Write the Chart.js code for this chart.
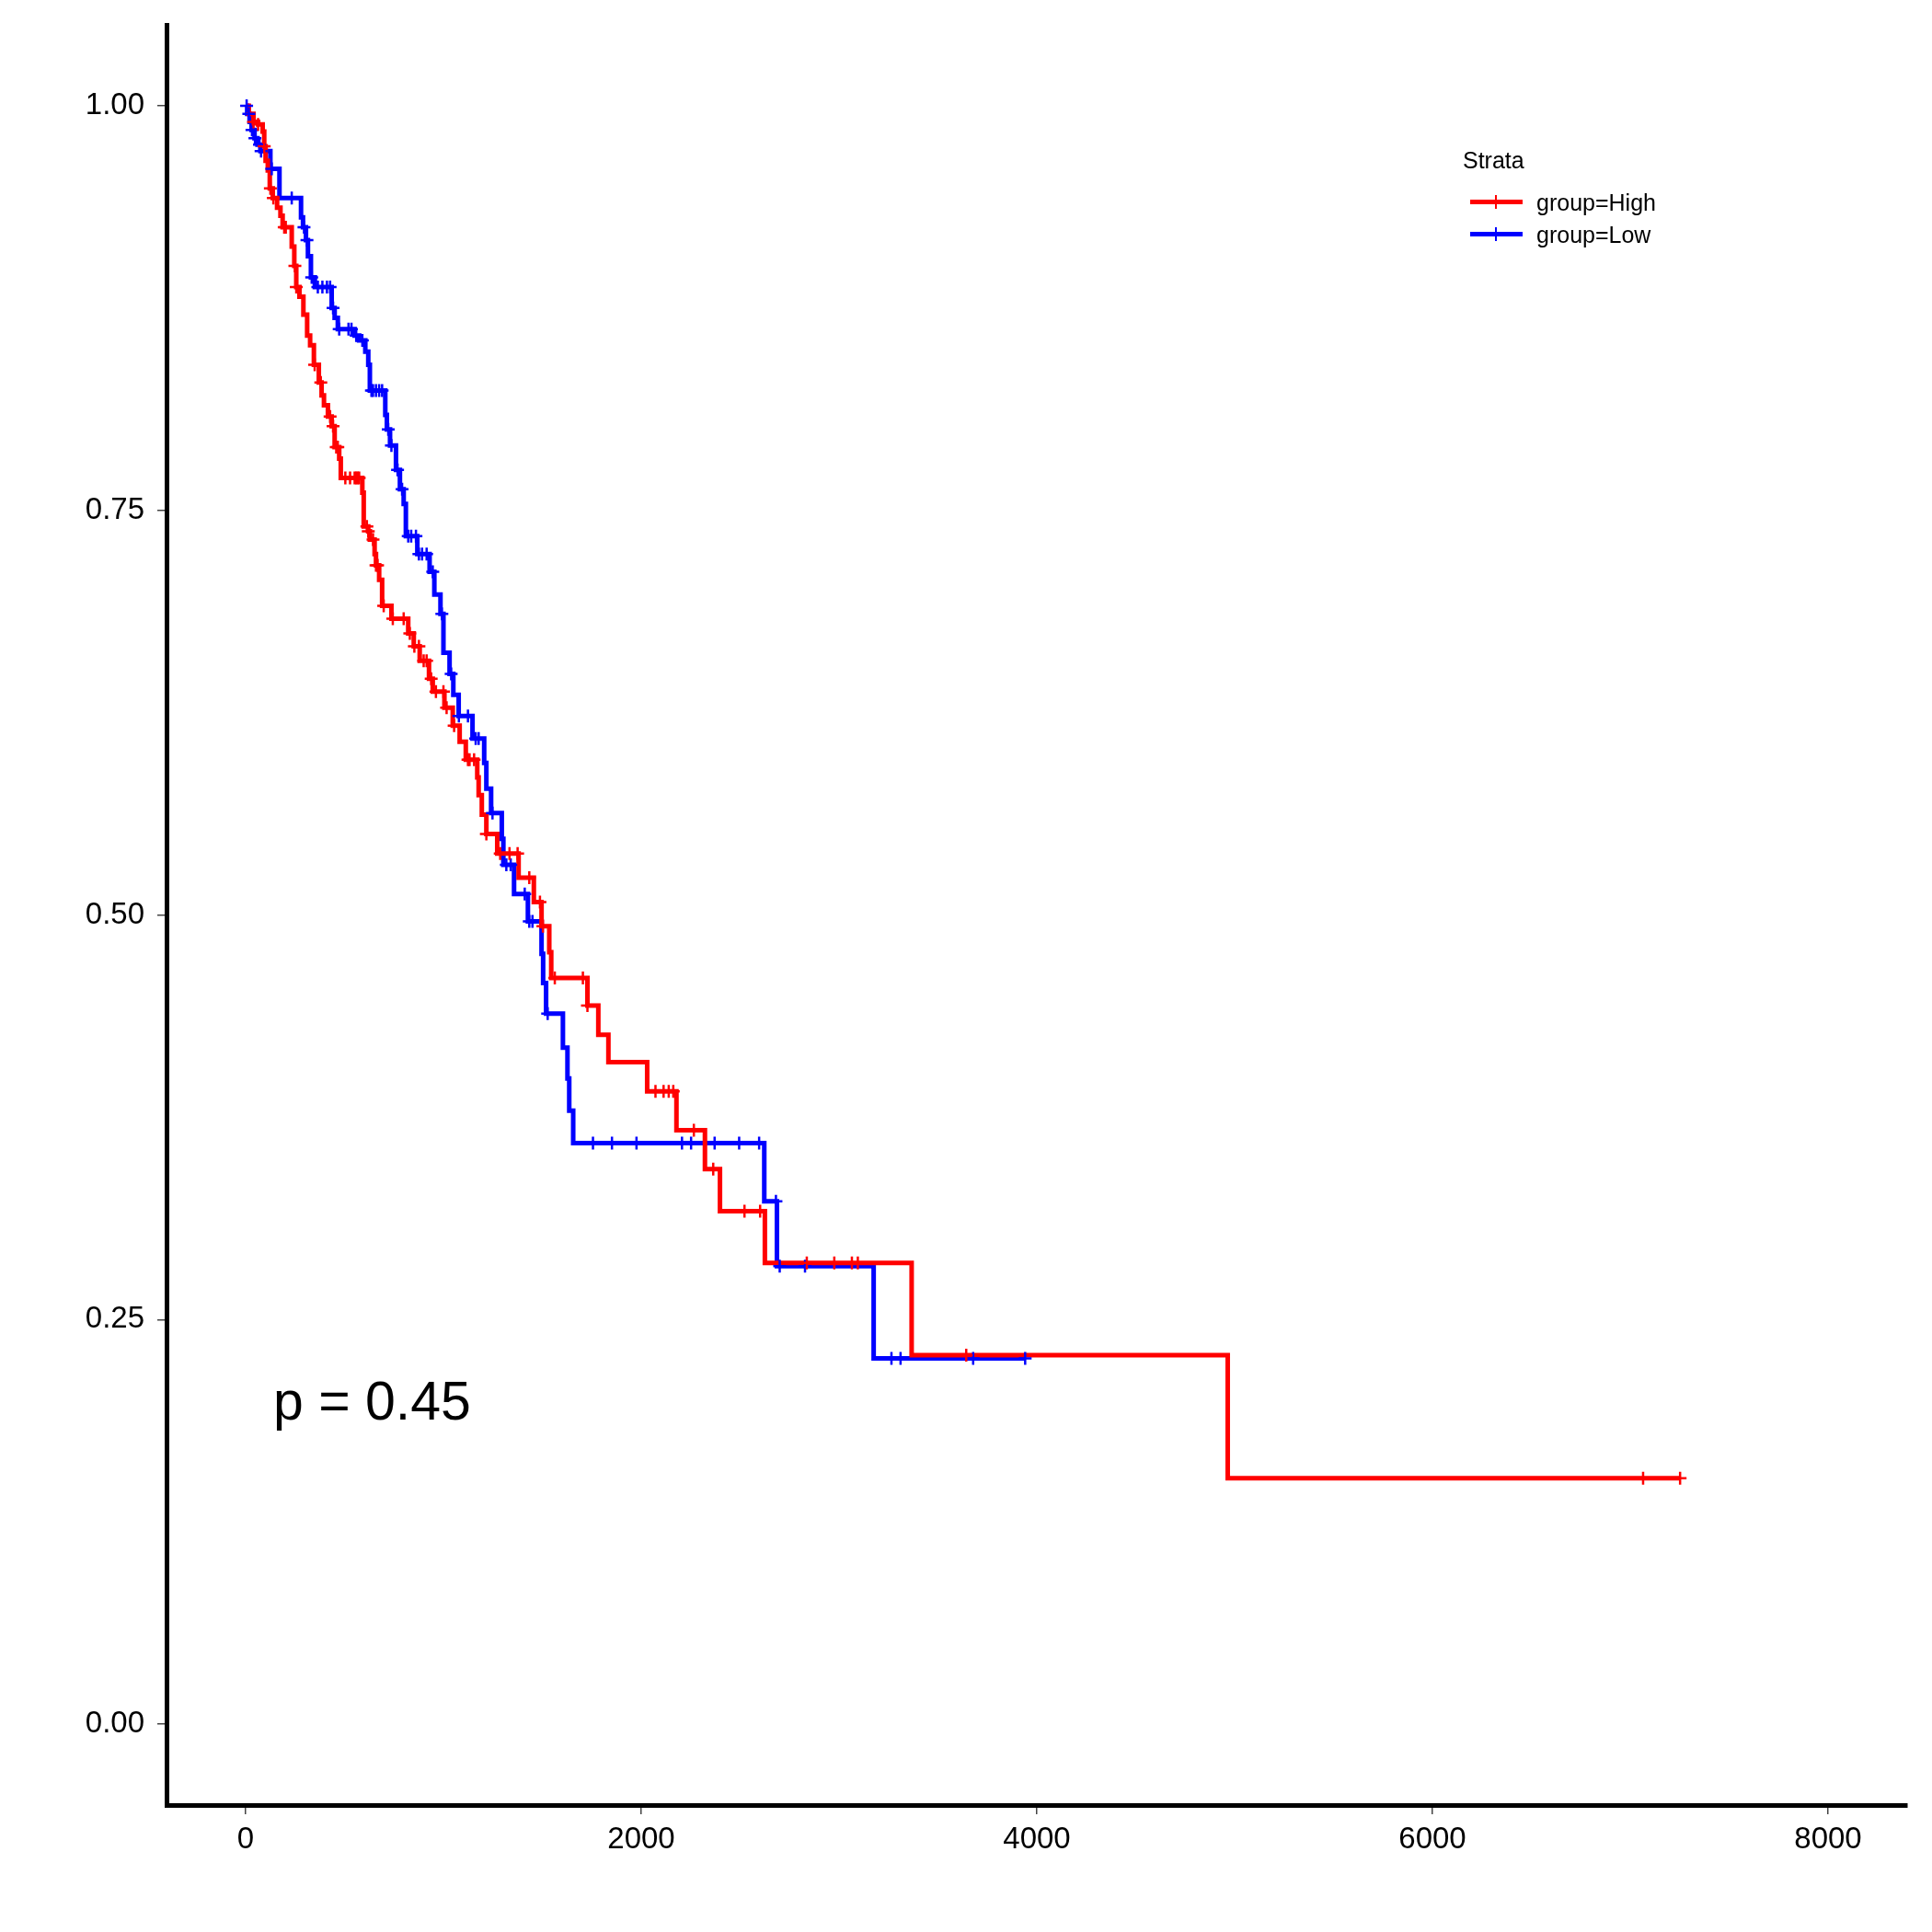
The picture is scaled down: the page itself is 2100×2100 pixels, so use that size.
<!DOCTYPE html>
<html>
<head>
<meta charset="utf-8">
<title>Kaplan-Meier: group=High vs group=Low</title>
<script src="https://cdn.jsdelivr.net/npm/chart.js@4.4.1/dist/chart.umd.min.js"></script>
<style>
  html, body { margin: 0; padding: 0; background: #fff; }
  #wrap { position: relative; width: 2100px; height: 2100px; font-family: "Liberation Sans", Arial, sans-serif; color: #000; }
  #kmChart { position: absolute; left: 0; top: 0; }
  .txt { position: absolute; line-height: 1; white-space: nowrap; }
  #pval { left: 297px; top: 1494px; font-size: 59px; }
  #legTitle { left: 1590px; top: 162px; font-size: 25px; }
  .key { position: absolute; left: 1598px; width: 57px; height: 5px; }
  .key span { position: absolute; left: 27px; top: -5px; width: 2px; height: 15px; }
</style>
</head>
<body>
<div id="wrap">
  <canvas id="kmChart" width="2100" height="2100"></canvas>
  <div class="txt" id="pval">p = 0.45</div>
  <div class="txt" id="legTitle">Strata</div>
  <div class="key" style="top:217px;background:#ff0000"><span style="background:#ff0000"></span></div>
  <div class="txt" style="left:1670px;top:208px;font-size:25px">group=High</div>
  <div class="key" style="top:252px;background:#0000ff"><span style="background:#0000ff"></span></div>
  <div class="txt" style="left:1670px;top:243px;font-size:25px">group=Low</div>
</div>
<script>
// courbes de survie (temps en jours)
const highTimes = [0, 16, 40, 63, 86, 94, 101, 112, 122, 137, 159, 176, 187, 233, 246, 256, 272, 292, 311, 326,
  345, 370, 384, 396, 416, 435, 450, 473, 481, 590, 597, 620, 628, 652, 659, 675, 690, 737, 822, 850,
  880, 927, 946, 1005, 1047, 1082, 1113, 1171, 1178, 1194, 1217, 1272, 1380, 1457, 1496, 1535, 1545, 1728, 1783, 1834,
  2030, 2178, 2322, 2398, 2625, 3367, 4965];
const highSurv = [1.0, 0.995, 0.990, 0.9885, 0.984, 0.975, 0.966, 0.960, 0.949, 0.943, 0.937, 0.932, 0.925, 0.913, 0.901, 0.888, 0.882, 0.871, 0.858, 0.852,
  0.840, 0.829, 0.821, 0.815, 0.808, 0.802, 0.789, 0.782, 0.770, 0.761, 0.740, 0.737, 0.732, 0.723, 0.716, 0.707, 0.691, 0.683, 0.674, 0.666,
  0.657, 0.646, 0.638, 0.628, 0.617, 0.607, 0.596, 0.585, 0.574, 0.562, 0.550, 0.538, 0.523, 0.508, 0.493, 0.477, 0.461, 0.444, 0.426, 0.409,
  0.391, 0.367, 0.343, 0.317, 0.285, 0.228, 0.152];
const highEnd = 7252;
const highCensor = [40, 63, 94, 125, 140, 195, 203, 249, 256, 349, 380, 427, 442, 458, 466, 504, 528, 551, 559, 566,
  574, 613, 620, 644, 659, 667, 698, 744, 799, 830, 853, 876, 900, 915, 938, 962, 1000, 1016, 1054, 1124,
  1132, 1155, 1217, 1287, 1334, 1375, 1434, 1488, 1503, 1563, 1705, 1728, 2072, 2113, 2139, 2162, 2266, 2364, 2522, 2601,
  2837, 2976, 3065, 3095, 3643, 7065, 7252];

const lowTimes = [0, 8, 20, 30, 45, 60, 75, 125, 171, 280, 290, 305, 315, 330, 350, 435, 450, 466, 551, 574,
  605, 620, 628, 706, 714, 730, 760, 780, 799, 810, 868, 930, 954, 985, 1000, 1031, 1050, 1077, 1147, 1206,
  1217, 1241, 1295, 1303, 1357, 1427, 1496, 1504, 1519, 1604, 1627, 1636, 1656, 2622, 2686, 3175];
const lowSurv = [1.0, 0.995, 0.990, 0.985, 0.980, 0.976, 0.972, 0.961, 0.943, 0.931, 0.925, 0.917, 0.907, 0.894, 0.888, 0.875, 0.869, 0.862, 0.858, 0.855,
  0.848, 0.840, 0.824, 0.809, 0.800, 0.790, 0.775, 0.763, 0.754, 0.734, 0.723, 0.712, 0.698, 0.686, 0.662, 0.649, 0.636, 0.623, 0.609, 0.594,
  0.578, 0.563, 0.547, 0.531, 0.513, 0.496, 0.476, 0.458, 0.439, 0.418, 0.399, 0.379, 0.359, 0.323, 0.283, 0.226];
const lowEnd = 3941;
const lowCensor = [5, 16, 32, 47, 70, 78, 132, 233, 295, 310, 334, 365, 388, 411, 427, 442, 473, 520, 535, 559,
  590, 636, 644, 659, 675, 690, 721, 737, 768, 791, 822, 837, 861, 876, 892, 915, 946, 992, 1039, 1078,
  1124, 1163, 1178, 1248, 1318, 1340, 1411, 1434, 1450, 1527, 1756, 1852, 1976, 2206, 2252, 2371, 2495, 2596, 2681, 2700,
  2828, 3265, 3311, 3678, 3941];

const xTicks = [0, 2000, 4000, 6000, 8000];
const yTicks = [0, 0.25, 0.5, 0.75, 1.0];

const FONT = '"Liberation Sans", Arial, sans-serif';

function stepPoints(times, surv, end) {
  const pts = times.map((t, i) => ({ x: t, y: surv[i] }));
  pts.push({ x: end, y: surv[surv.length - 1] });
  return pts;
}

function survAt(times, surv, t) {
  let s = surv[0];
  for (let i = 0; i < times.length; i++) {
    if (times[i] <= t) s = surv[i];
  }
  return s;
}

function censorPoints(cens, times, surv) {
  return cens.map(t => ({ x: t, y: survAt(times, surv, t) }));
}

const ctx = document.getElementById('kmChart').getContext('2d');
const kmChart = new Chart(ctx, {
  type: 'scatter',
  data: {
    datasets: [
      {
        label: 'group=High censor',
        data: censorPoints(highCensor, highTimes, highSurv),
        showLine: false,
        pointStyle: 'cross',
        pointRadius: 7,
        borderColor: '#ff0000',
        borderWidth: 2.5
      },
      {
        label: 'group=Low censor',
        data: censorPoints(lowCensor, lowTimes, lowSurv),
        showLine: false,
        pointStyle: 'cross',
        pointRadius: 7,
        borderColor: '#0000ff',
        borderWidth: 2.5
      },
      {
        label: 'group=High',
        data: stepPoints(highTimes, highSurv, highEnd),
        showLine: true,
        stepped: true,
        borderColor: '#ff0000',
        borderWidth: 5,
        pointRadius: 0,
        fill: false
      },
      {
        label: 'group=Low',
        data: stepPoints(lowTimes, lowSurv, lowEnd),
        showLine: true,
        stepped: true,
        borderColor: '#0000ff',
        borderWidth: 5,
        pointRadius: 0,
        fill: false
      }
    ]
  },
  options: {
    responsive: false,
    animation: false,
    devicePixelRatio: 1,
    layout: { padding: { left: 0, right: 27, top: 27, bottom: 0 } },
    plugins: {
      legend: { display: false },
      tooltip: { enabled: false }
    },
    scales: {
      x: {
        type: 'linear',
        min: -400,
        max: 8400,
        afterBuildTicks: s => { s.ticks = xTicks.map(v => ({ value: v })); },
        afterFit: s => { s.height = 138; s.paddingLeft = 0; s.paddingRight = 0; },
        grid: { display: true, drawOnChartArea: false, drawTicks: true, tickLength: 10, color: '#444', lineWidth: 1.5 },
        border: { display: true, color: '#000', width: 5 },
        ticks: {
          color: '#000',
          padding: 8,
          font: { family: FONT, size: 33 },
          callback: v => String(v)
        }
      },
      y: {
        type: 'linear',
        min: -0.05,
        max: 1.05,
        afterBuildTicks: s => { s.ticks = yTicks.map(v => ({ value: v })); },
        afterFit: s => { s.width = 181; s.paddingTop = 0; s.paddingBottom = 0; },
        grid: { display: true, drawOnChartArea: false, drawTicks: true, tickLength: 10, color: '#444', lineWidth: 1.5 },
        border: { display: true, color: '#000', width: 5 },
        ticks: {
          color: '#000',
          padding: 14,
          font: { family: FONT, size: 33 },
          callback: v => Number(v).toFixed(2)
        }
      }
    }
  }
});
</script>
</body>
</html>
